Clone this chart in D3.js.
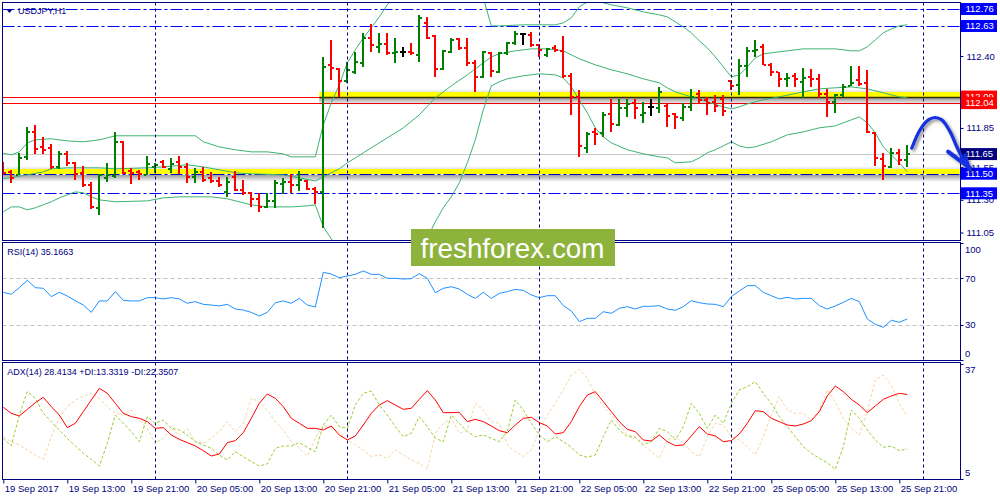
<!DOCTYPE html>
<html><head><meta charset="utf-8">
<script src="https://cdn.jsdelivr.net/npm/d3@7"></script>
<style>
html,body{margin:0;padding:0;background:#fff;}
svg{display:block;}
text{font-family:"Liberation Sans",Arial,sans-serif;}
</style></head><body>
<svg id="c" width="1000" height="500"></svg>
<script>
// ---------------- DATA ----------------
const openP = [111.568,111.514,111.491,111.629,111.820,111.705,111.698,111.552,111.652,111.583,
111.507,111.415,111.239,111.468,111.484,111.744,111.522,111.514,111.491,111.552,
111.591,111.537,111.591,111.552,111.476,111.514,111.468,111.445,111.361,111.476,
111.377,111.354,111.308,111.246,111.292,111.422,111.438,111.415,111.445,111.384,
111.361,112.333,112.302,112.210,112.279,112.348,112.539,112.470,112.493,112.425,
112.432,112.432,112.409,112.654,112.555,112.302,112.432,112.532,112.463,112.348,
112.241,112.425,112.279,112.425,112.501,112.570,112.562,112.486,112.409,112.463,
112.440,112.249,112.088,111.698,111.820,111.813,111.958,111.874,112.004,112.042,
111.950,112.011,112.004,112.019,111.958,111.927,112.011,112.111,112.065,112.050,
112.073,112.210,112.180,112.325,112.440,112.470,112.333,112.279,112.226,112.249,
112.203,112.241,112.226,112.111,112.050,112.103,112.172,112.218,112.195,111.813,
111.614,111.552,111.659,111.606];
const highP = [111.591,111.530,111.660,111.858,111.874,111.782,111.728,111.675,111.675,111.591,
111.560,111.438,111.499,111.583,111.820,111.751,111.545,111.530,111.637,111.583,
111.606,111.621,111.637,111.583,111.545,111.552,111.514,111.476,111.476,111.522,
111.453,111.361,111.354,111.354,111.453,111.468,111.499,111.522,111.453,111.399,
112.394,112.524,112.310,112.356,112.432,112.578,112.646,112.578,112.578,112.539,
112.470,112.501,112.715,112.700,112.562,112.448,112.539,112.539,112.539,112.371,
112.440,112.432,112.432,112.509,112.593,112.578,112.585,112.493,112.463,112.486,
112.555,112.271,112.142,111.820,111.851,111.973,112.073,112.073,112.073,112.073,
112.050,112.073,112.164,112.042,111.966,112.042,112.149,112.142,112.088,112.103,
112.103,112.218,112.379,112.470,112.524,112.493,112.348,112.279,112.271,112.271,
112.310,112.302,112.264,112.149,112.111,112.187,112.325,112.325,112.295,111.820,
111.659,111.698,111.690,111.721];
const lowP = [111.491,111.430,111.491,111.606,111.652,111.652,111.537,111.537,111.560,111.453,
111.399,111.231,111.185,111.438,111.468,111.499,111.422,111.453,111.491,111.507,
111.545,111.507,111.499,111.430,111.430,111.438,111.430,111.399,111.323,111.369,
111.338,111.246,111.208,111.239,111.239,111.346,111.354,111.369,111.377,111.269,
111.086,112.218,112.088,112.195,112.264,112.317,112.432,112.425,112.409,112.348,
112.394,112.409,112.356,112.532,112.241,112.295,112.425,112.448,112.325,112.126,
112.233,112.241,112.271,112.409,112.486,112.486,112.470,112.394,112.394,112.432,
112.233,111.950,111.629,111.659,111.721,111.782,111.820,111.866,111.935,111.920,
111.889,111.943,111.966,111.858,111.843,111.904,111.981,112.034,111.950,111.973,
111.943,112.142,112.103,112.241,112.394,112.333,112.249,112.164,112.164,112.164,
112.080,112.164,112.080,111.935,111.966,112.088,112.172,112.172,111.813,111.560,
111.453,111.545,111.568,111.552];
const closeP = [111.507,111.468,111.621,111.820,111.690,111.683,111.552,111.652,111.583,111.499,
111.415,111.246,111.491,111.491,111.744,111.507,111.507,111.499,111.575,111.568,
111.552,111.575,111.552,111.476,111.514,111.453,111.445,111.415,111.438,111.377,
111.354,111.308,111.246,111.292,111.430,111.438,111.415,111.453,111.384,111.361,
112.317,112.310,112.210,112.294,112.356,112.539,112.486,112.493,112.425,112.432,
112.432,112.425,112.692,112.539,112.302,112.440,112.524,112.463,112.348,112.241,
112.432,112.287,112.425,112.501,112.570,112.570,112.486,112.448,112.455,112.448,
112.249,112.088,111.713,111.805,111.805,111.950,111.881,112.004,112.034,112.004,
111.966,112.011,112.126,111.943,111.935,112.011,112.088,112.065,112.042,112.019,
111.981,112.172,112.325,112.440,112.448,112.333,112.279,112.226,112.233,112.226,
112.233,112.226,112.111,112.050,112.103,112.164,112.195,112.187,111.820,111.621,
111.560,111.659,111.606,111.650];

// Bollinger Bands(20): [bar index, price]
const bbUpper = [[0,111.657],[1,111.644],[2,111.667],[3,111.736],[4,111.759],[6,111.767],[8,111.751],[10,111.744],[12,111.759],[13,111.774],[14,111.790],[24,111.790],[25,111.744],[27,111.705],[29,111.683],[31,111.667],[33,111.667],[35,111.652],[36,111.629],[39,111.629],
[40,111.874],[41,112.042],[42,112.180],[43,112.348],[44,112.448],[45,112.539],[46,112.616],[47,112.700],[48,112.792],[49,112.868],[50,112.922],[52,113.021],[54,113.060],[56,113.021],[58,112.945],[59,112.891],[60,112.845],
[61,112.631],[62,112.631],[65,112.639],[69,112.639],[70,112.654],[71,112.692],[72,112.776],[73,112.815],[74,112.830],[75,112.807],[76,112.792],[78,112.769],[80,112.738],[82,112.715],[83,112.700],[84,112.662],[85,112.623],[86,112.578],[87,112.516],[88,112.463],[89,112.394],[90,112.317],[91,112.241],[92,112.256],[93,112.317],[94,112.386],[95,112.417],[96,112.425],[98,112.440],[100,112.455],[104,112.455],[106,112.440],[107,112.440],[108,112.470],[109,112.524],[110,112.578],[111,112.608],[112,112.631],[113,112.639]];
const bbMiddle = [[0,111.461],[3,111.491],[5,111.514],[6,111.537],[8,111.545],[12,111.545],[14,111.537],[18,111.545],[20,111.552],[23,111.568],[25,111.552],[27,111.530],[29,111.507],[31,111.499],[35,111.491],[37,111.468],[39,111.445],
[40,111.476],[41,111.507],[42,111.537],[43,111.583],[44,111.621],[45,111.660],[46,111.698],[48,111.774],[50,111.851],[52,111.950],[54,112.080],[55,112.126],[56,112.172],[58,112.256],[60,112.348],[61,112.394],[62,112.417],[64,112.440],[66,112.455],[68,112.455],[70,112.440],[71,112.409],[72,112.379],[74,112.333],[76,112.295],[78,112.264],[80,112.226],[82,112.195],
[83,112.157],[84,112.126],[86,112.088],[88,112.050],[90,112.011],[91,111.996],[92,112.011],[93,112.034],[95,112.065],[97,112.088],[100,112.126],[102,112.149],[104,112.157],[106,112.164],[108,112.149],[110,112.119],[112,112.088],[113,112.080]];
const bbLower = [[0,111.208],[1,111.246],[2,111.246],[3,111.224],[4,111.239],[5,111.262],[6,111.285],[7,111.315],[8,111.338],[9,111.361],[10,111.354],[11,111.323],[12,111.300],[14,111.285],[18,111.292],[20,111.315],[22,111.323],[26,111.323],[28,111.308],[30,111.277],[31,111.262],[33,111.246],[36,111.246],[38,111.254],[39,111.262],
[40,111.093],[41,111.002],[42,110.894],[43,110.818],[44,110.795],[46,110.780],[48,110.757],[50,110.780],[51,110.826],[52,110.879],[53,111.009],[54,111.132],[55,111.239],[56,111.323],[57,111.430],[58,111.583],[59,111.759],[60,111.989],[61,112.172],[62,112.203],[63,112.226],[65,112.249],[67,112.264],[69,112.256],[70,112.233],[71,112.164],[72,112.065],[73,111.966],[74,111.851],[75,111.782],[76,111.736],[78,111.683],[80,111.652],[82,111.629],
[83,111.621],[84,111.583],[86,111.591],[87,111.621],[88,111.660],[89,111.683],[90,111.713],[91,111.744],[92,111.713],[93,111.698],[94,111.705],[96,111.744],[98,111.797],[100,111.820],[102,111.851],[104,111.866],[105,111.889],[106,111.912],[107,111.935],[108,111.889],[109,111.813],[110,111.705],[111,111.644],[112,111.583],[113,111.514]];

const rsi = [58.0,56.3,62.0,68.3,62.0,61.4,54.3,58.0,54.8,50.8,
47.1,40.8,50.6,50.6,58.6,51.1,50.6,50.6,53.4,53.4,
52.3,53.4,52.3,48.6,50.0,47.7,47.1,46.3,47.7,43.7,
42.8,40.8,37.7,40.8,49.1,50.6,48.6,52.8,47.1,45.4,
75.1,73.7,70.5,72.0,73.4,76.3,73.4,73.4,70.0,70.0,
69.4,69.7,74.0,70.0,57.7,61.4,62.8,60.8,56.3,52.8,
58.0,52.8,57.0,58.6,60.5,59.7,55.7,53.4,55.1,55.1,
46.6,42.0,32.9,35.7,35.7,41.4,40.0,44.3,45.7,43.7,
46.0,46.0,46.6,43.7,42.6,45.7,50.8,49.1,48.0,47.7,
45.7,54.3,59.1,63.7,63.7,58.0,55.1,52.3,53.7,52.3,
52.8,52.8,46.6,43.7,46.3,49.4,52.8,50.0,35.1,30.6,
28.0,34.0,32.3,35.17];

const adx = [24.86,23.20,22.46,24.30,26.15,27.63,25.04,22.73,19.23,20.43,
23.66,26.89,30.12,28.74,25.97,23.20,22.27,21.81,20.89,19.04,
19.23,17.19,15.99,15.07,14.15,12.85,11.38,11.93,15.07,15.62,
17.84,21.81,25.97,28.55,27.35,25.04,21.81,20.43,19.04,19.04,
18.58,19.69,17.19,15.81,16.92,19.96,23.20,25.50,26.70,25.50,
24.30,24.58,27.07,29.47,26.89,23.38,23.38,23.47,20.89,21.53,
20.89,19.69,18.39,17.84,19.96,21.81,22.09,20.61,19.69,17.47,
17.84,20.89,25.04,28.27,29.20,26.43,23.66,20.89,18.76,18.12,
15.81,15.53,17.19,15.35,14.24,14.42,16.92,19.50,17.47,16.92,
15.35,15.62,17.47,20.43,23.93,23.66,21.81,20.89,19.96,19.69,
20.24,21.16,23.66,28.00,30.77,29.20,27.07,25.50,23.38,25.23,
27.07,28.00,28.74,28.41];
const plusDI = [16.27,14.15,22.73,29.20,27.35,23.20,20.89,18.58,16.27,14.15,
12.12,10.45,8.61,14.89,22.73,20.43,18.12,15.35,22.27,20.43,
21.35,19.04,18.58,17.19,15.35,14.42,13.50,11.65,10.27,12.58,
11.19,9.81,8.61,9.16,13.50,14.15,14.15,15.07,13.78,12.58,
19.96,22.73,19.50,19.04,25.50,28.74,29.38,25.50,22.73,19.50,
16.73,17.65,22.27,19.50,16.27,15.35,22.73,20.43,18.12,16.73,
17.19,16.27,15.35,18.12,26.89,24.12,20.43,17.19,15.35,16.73,
15.35,13.78,11.65,11.01,11.65,16.73,21.35,18.58,16.73,16.55,
14.42,15.35,19.04,18.12,15.81,19.50,25.97,23.20,19.04,22.73,
20.43,25.97,29.66,30.58,31.97,28.74,25.97,22.27,19.50,16.73,
13.96,12.12,10.73,9.53,7.68,13.96,24.12,21.81,18.58,15.81,
13.78,14.15,12.85,13.33];
const minusDI = [16.73,15.35,14.42,13.04,11.65,10.45,16.73,21.81,25.04,26.89,
28.00,28.74,27.35,25.04,23.20,22.73,24.12,21.35,19.04,14.89,
16.27,19.04,17.19,19.04,15.35,14.89,16.27,18.12,20.89,18.12,
20.43,27.35,26.43,24.12,20.89,18.58,15.35,13.50,11.38,16.27,
19.96,19.04,18.12,15.81,14.42,13.04,11.19,11.65,10.73,13.04,
11.65,10.27,9.35,7.68,17.65,20.43,21.81,17.65,18.58,25.97,
24.12,20.89,20.43,14.42,12.58,11.19,13.04,18.58,22.73,25.97,
29.66,33.81,35.38,32.89,28.27,25.04,22.73,19.96,17.19,16.73,
14.42,12.58,10.73,15.81,16.73,14.89,12.58,11.19,16.73,20.43,
19.96,16.73,15.81,13.96,11.65,16.73,22.73,27.81,24.12,23.20,
23.20,21.35,24.12,29.66,26.43,21.81,19.04,17.19,23.66,32.43,
33.81,31.04,25.97,22.35];

const timeTickBars = [0,8,16,24,32,40,48,56,64,72,80,88,96,104,112];
const timeLabels = ["19 Sep 2017","19 Sep 13:00","19 Sep 21:00","20 Sep 05:00","20 Sep 13:00","20 Sep 21:00","21 Sep 05:00","21 Sep 13:00","21 Sep 21:00","22 Sep 05:00","22 Sep 13:00","22 Sep 21:00","25 Sep 05:00","25 Sep 13:00","25 Sep 21:00"];
const daySeparatorBars = [19,43,67,91,115];
const priceTicks = [112.40,111.85,111.55,111.30,111.05];
const blueLevels = [112.76,112.63,111.35];
const redLevels = [112.09,112.04];
const bidPrice = 111.65;
const supportLevel = 111.50;
const resistanceLevel = 112.09;
const resistanceBandStartBar = 39.5;
const rsiLevels = [70,30];
const rsiAxisLabels = [100,70,30,0];
const adxAxisLabels = [37,5];
const forecastPath = [[113.55,111.695],[114.59,111.836],[115.63,111.912],[116.46,111.930],[117.3,111.912],[118.34,111.822],[119.17,111.708],[120.0,111.606],[120.63,111.542]];
const forecastHeadA = [[118.1,111.669],[120.84,111.542]];
const forecastHeadB = [[120.21,111.644],[120.84,111.529]];
const titleMain = "USDJPY,H1";
const titleRsi = "RSI(14) 35.1663";
const titleAdx = "ADX(14) 28.4134 +DI:13.3319 -DI:22.3507";
const logoText = "freshforex.com";

// ---------------- LAYOUT ----------------
const NAVY = "#000080";
const xLeft = 2.5, xRight = 960.5;
const main = {top:2.5, bottom:240.5};
const rsiP = {top:242.5, bottom:360.5};
const adxP = {top:362.5, bottom:479.5};

const x = d3.scaleLinear().domain([0,113]).range([3.3,907.3]);
const yP = d3.scaleLinear().domain([111.35,112.76]).range([193.3,9]);
const yR = d3.scaleLinear().domain([0,100]).range([360,243.3]);
const yA = d3.scaleLinear().domain([5,37]).range([479,363.5]);

const svg = d3.select("#c");
const defs = svg.append("defs");
function clip(id,p){defs.append("clipPath").attr("id",id).append("rect")
  .attr("x",xLeft+0.5).attr("y",p.top+0.5).attr("width",xRight-xLeft-1).attr("height",p.bottom-p.top-1);}
clip("cMain",main); clip("cRsi",rsiP); clip("cAdx",adxP);

const gd = defs.append("linearGradient").attr("id","shadowDown").attr("x1",0).attr("y1",0).attr("x2",0).attr("y2",1);
gd.append("stop").attr("offset",0).attr("stop-color","#000").attr("stop-opacity",0.38);
gd.append("stop").attr("offset",1).attr("stop-color","#000").attr("stop-opacity",0);
const gu = defs.append("linearGradient").attr("id","shadowUp").attr("x1",0).attr("y1",1).attr("x2",0).attr("y2",0);
gu.append("stop").attr("offset",0).attr("stop-color","#000").attr("stop-opacity",0.12);
gu.append("stop").attr("offset",1).attr("stop-color","#000").attr("stop-opacity",0);
const f = defs.append("filter").attr("id","arrowShadow").attr("x","-30%").attr("y","-30%").attr("width","160%").attr("height","160%");
f.append("feDropShadow").attr("dx",2).attr("dy",2).attr("stdDeviation",1.5).attr("flood-color","#000").attr("flood-opacity",0.45);

svg.append("rect").attr("width",1000).attr("height",500).attr("fill","#fff");

// ---------- MAIN PANEL ----------
const gm = svg.append("g").attr("clip-path","url(#cMain)");
// bid line
gm.append("line").attr("x1",xLeft).attr("x2",xRight).attr("y1",Math.round(yP(bidPrice))+0.5).attr("y2",Math.round(yP(bidPrice))+0.5)
  .attr("stroke","#c8c8c8").attr("stroke-width",1);
// red levels
gm.selectAll("line.red").data(redLevels).join("line").attr("class","red")
  .attr("x1",xLeft).attr("x2",xRight).attr("y1",d=>Math.round(yP(d))+0.5).attr("y2",d=>Math.round(yP(d))+0.5)
  .attr("stroke","#ff0000").attr("stroke-width",1);
// resistance band (yellow) from bar 39.5
{
  const yb = Math.round(yP(resistanceLevel));
  const xs = x(resistanceBandStartBar);
  gm.append("rect").attr("x",xs).attr("y",yb-8).attr("width",xRight-xs).attr("height",3).attr("fill","url(#shadowUp)");
  gm.append("rect").attr("x",xs).attr("y",yb+1).attr("width",xRight-xs).attr("height",7).attr("fill","url(#shadowDown)");
  gm.append("rect").attr("x",xs).attr("y",yb-5).attr("width",xRight-xs).attr("height",5).attr("fill","#ffff00");
  gm.append("line").attr("x1",xs).attr("x2",xRight).attr("y1",yb+0.5).attr("y2",yb+0.5).attr("stroke","#3a2a08").attr("stroke-width",1.5);
}
// support band (yellow) full width
{
  const yb = Math.round(yP(supportLevel));
  gm.append("rect").attr("x",xLeft).attr("y",yb-8).attr("width",xRight-xLeft).attr("height",3).attr("fill","url(#shadowUp)");
  gm.append("rect").attr("x",xLeft).attr("y",yb+1).attr("width",xRight-xLeft).attr("height",7).attr("fill","url(#shadowDown)");
  gm.append("rect").attr("x",xLeft).attr("y",yb-5).attr("width",xRight-xLeft).attr("height",5).attr("fill","#ffff00");
  gm.append("line").attr("x1",xLeft).attr("x2",xRight).attr("y1",yb+0.5).attr("y2",yb+0.5)
    .attr("stroke","#0000cc").attr("stroke-width",1.2).attr("stroke-dasharray","12,3,3,3");
}
// blue dash-dot levels
gm.selectAll("line.blue").data(blueLevels).join("line").attr("class","blue")
  .attr("x1",xLeft).attr("x2",xRight).attr("y1",d=>Math.round(yP(d))+0.5).attr("y2",d=>Math.round(yP(d))+0.5)
  .attr("stroke","#0000ff").attr("stroke-width",1).attr("stroke-dasharray","12,3,3,3");

// day separators across all panels
svg.append("g").selectAll("line").data(daySeparatorBars).join("line")
  .attr("x1",d=>Math.round(x(d))+0.5).attr("x2",d=>Math.round(x(d))+0.5)
  .attr("y1",main.top).attr("y2",adxP.bottom)
  .attr("stroke",NAVY).attr("stroke-width",1).attr("stroke-dasharray","3,3");

// bollinger bands
const bbLine = d3.line().x(d=>x(d[0])).y(d=>yP(d[1]));
[bbUpper,bbMiddle,bbLower].forEach(s=>{
  gm.append("path").attr("d",bbLine(s)).attr("fill","none").attr("stroke","#3cb371").attr("stroke-width",1);
});

// OHLC bars
const idx = d3.range(openP.length);
const barColor = i => closeP[i] > openP[i] ? "#008000" : (closeP[i] < openP[i] ? "#ff0000" : "#000000");
const gb = gm.append("g").attr("shape-rendering","crispEdges");
gb.selectAll("rect.hl").data(idx).join("rect").attr("class","hl")
  .attr("x",i=>Math.round(x(i))-1).attr("width",2)
  .attr("y",i=>Math.round(yP(highP[i]))).attr("height",i=>Math.max(1,Math.round(yP(lowP[i]))-Math.round(yP(highP[i]))))
  .attr("fill",barColor);
gb.selectAll("rect.op").data(idx).join("rect").attr("class","op")
  .attr("x",i=>Math.round(x(i))-3).attr("width",2)
  .attr("y",i=>Math.round(yP(openP[i]))-1).attr("height",2).attr("fill",barColor);
gb.selectAll("rect.cl").data(idx).join("rect").attr("class","cl")
  .attr("x",i=>Math.round(x(i))+1).attr("width",2)
  .attr("y",i=>Math.round(yP(closeP[i]))-1).attr("height",2).attr("fill",barColor);

// main title
svg.append("path").attr("d","M6.5,9.5 L12.5,9.5 L9.5,13 Z").attr("fill",NAVY);
svg.append("text").attr("x",18).attr("y",14).attr("font-size",9).attr("fill",NAVY).text(titleMain);

// ---------- RSI PANEL ----------
const gr = svg.append("g").attr("clip-path","url(#cRsi)");
gr.selectAll("line.lvl").data(rsiLevels).join("line").attr("class","lvl")
  .attr("x1",xLeft).attr("x2",xRight).attr("y1",d=>Math.round(yR(d))+0.5).attr("y2",d=>Math.round(yR(d))+0.5)
  .attr("stroke","#c0c0c0").attr("stroke-dasharray","4,3");
gr.append("path").attr("d",d3.line().x((d,i)=>x(i)).y(d=>yR(d))(rsi))
  .attr("fill","none").attr("stroke","#1e90ff").attr("stroke-width",1);
svg.append("text").attr("x",7.3).attr("y",255).attr("font-size",9).attr("fill",NAVY).text(titleRsi);

// ---------- ADX PANEL ----------
const ga = svg.append("g").attr("clip-path","url(#cAdx)");
const aLine = d3.line().x((d,i)=>x(i)).y(d=>yA(d));
ga.append("path").attr("d",aLine(minusDI)).attr("fill","none").attr("stroke","#f8d3a4").attr("stroke-width",1).attr("stroke-dasharray","3,2");
ga.append("path").attr("d",aLine(plusDI)).attr("fill","none").attr("stroke","#9acd32").attr("stroke-width",1).attr("stroke-dasharray","3,2");
ga.append("path").attr("d",aLine(adx)).attr("fill","none").attr("stroke","#ff0000").attr("stroke-width",1);
svg.append("text").attr("x",7.3).attr("y",375).attr("font-size",9).attr("fill",NAVY).text(titleAdx);

// ---------- FRAMES ----------
[main,rsiP,adxP].forEach(p=>{
  svg.append("rect").attr("x",xLeft).attr("y",p.top).attr("width",xRight-xLeft).attr("height",p.bottom-p.top)
    .attr("fill","none").attr("stroke",NAVY).attr("stroke-width",1);
});

// ---------- PRICE AXIS ----------
const pax = svg.append("g").attr("transform",`translate(${xRight},0)`)
  .call(d3.axisRight(yP).tickValues(priceTicks).tickSize(3).tickPadding(3).tickFormat(d3.format(".2f")));
pax.select(".domain").remove();
pax.selectAll("line").attr("stroke",NAVY);
pax.selectAll("text").attr("fill",NAVY).attr("font-size",9.5).attr("font-family","Liberation Sans, Arial, sans-serif");

// level label boxes
function levelBox(v,fill){
  const yc = yP(v);
  const g = svg.append("g");
  g.append("rect").attr("x",961).attr("y",yc-6).attr("width",36).attr("height",12).attr("fill",fill);
  g.append("text").attr("x",965.5).attr("y",yc).attr("dy","0.35em").attr("font-size",9.5).attr("fill","#fff").text(d3.format(".2f")(v));
}
blueLevels.filter(v=>v>bidPrice).forEach(v=>levelBox(v,"#0000ff"));
redLevels.forEach(v=>levelBox(v,"#ff0000"));
levelBox(bidPrice,"#000080");
levelBox(supportLevel,"#0000ff");
blueLevels.filter(v=>v<bidPrice).forEach(v=>levelBox(v,"#0000ff"));

// ---------- RSI / ADX AXES ----------
function sideLabels(vals,scale,p){
  const g = svg.append("g");
  g.selectAll("line").data(vals).join("line")
    .attr("x1",xRight).attr("x2",xRight+3).attr("y1",d=>Math.round(scale(d))+0.5).attr("y2",d=>Math.round(scale(d))+0.5).attr("stroke",NAVY);
  g.selectAll("text").data(vals).join("text")
    .attr("x",xRight+4.5).attr("y",d=>Math.min(Math.max(scale(d),p.top+7),p.bottom-6.5)).attr("dy","0.35em")
    .attr("font-size",9.5).attr("fill",NAVY).text(d=>d);
}
sideLabels(rsiAxisLabels,yR,rsiP);
sideLabels(adxAxisLabels,yA,adxP);

// ---------- TIME AXIS ----------
const tax = svg.append("g").attr("transform",`translate(0,${adxP.bottom})`)
  .call(d3.axisBottom(x).tickValues(timeTickBars).tickSize(4).tickFormat((d,i)=>timeLabels[i]));
tax.select(".domain").remove();
tax.selectAll("line").attr("stroke",NAVY);
tax.selectAll("text").attr("text-anchor","start").attr("x",1).attr("y",5.5).attr("fill",NAVY)
  .attr("font-size",9.5).attr("font-family","Liberation Sans, Arial, sans-serif");

// ---------- LOGO ----------
svg.append("rect").attr("x",411).attr("y",229).attr("width",204).attr("height",37).attr("fill","#8db33d");
svg.append("text").attr("x",420.5).attr("y",257.5).attr("font-family","'Open Sans', sans-serif").attr("font-size",28)
  .attr("fill","#fff").attr("textLength",184).attr("lengthAdjust","spacingAndGlyphs").text(logoText);

// ---------- FORECAST ARROW ----------
const ga2 = svg.append("g").attr("filter","url(#arrowShadow)");
const fl = d3.line().x(d=>x(d[0])).y(d=>yP(d[1]));
ga2.append("path").attr("d",fl.curve(d3.curveCatmullRom)(forecastPath)).attr("fill","none")
  .attr("stroke","#1430e0").attr("stroke-width",3.2).attr("stroke-linecap","round");
const hl = d3.line().x(d=>x(d[0])).y(d=>yP(d[1]));
ga2.append("path").attr("d",hl(forecastHeadA)).attr("stroke","#1430e0").attr("stroke-width",4).attr("stroke-linecap","round");
ga2.append("path").attr("d",hl(forecastHeadB)).attr("stroke","#1430e0").attr("stroke-width",3).attr("stroke-linecap","round");
</script>
</body></html>
